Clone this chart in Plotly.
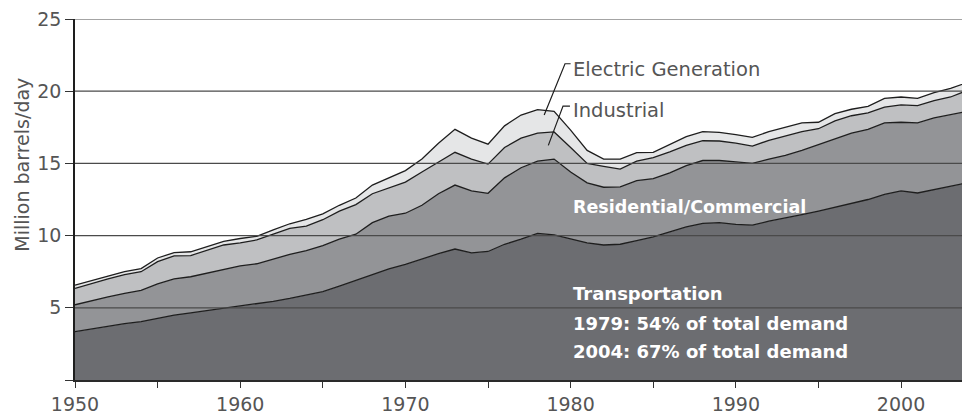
import plotly.graph_objects as go

years = list(range(1950, 2005))

transportation = [3.35, 3.55, 3.75, 3.90, 4.05, 4.30, 4.50, 4.65, 4.80, 4.95,
                  5.10, 5.25, 5.45, 5.65, 5.90, 6.12, 6.50, 6.90, 7.35, 7.70,
                  8.00, 8.40, 8.75, 9.07, 8.80, 8.90, 9.40, 9.75, 10.15, 10.05,
                  9.75, 9.50, 9.35, 9.40, 9.65, 9.92, 10.25, 10.60, 10.85, 10.90,
                  10.78, 10.72, 11.00, 11.20, 11.45, 11.70, 11.95, 12.20, 12.50, 12.85,
                  13.10, 12.95, 13.20, 13.40, 13.65]
residential_commercial = [1.86, 1.95, 2.00, 2.10, 2.15, 2.35, 2.50, 2.50, 2.60, 2.75,
                          2.80, 2.80, 2.95, 3.05, 3.06, 3.18, 3.25, 3.20, 3.55, 3.65,
                          3.55, 3.70, 4.15, 4.43, 4.30, 4.03, 4.60, 4.95, 5.00, 5.25,
                          4.65, 4.15, 4.00, 3.98, 4.15, 4.03, 4.10, 4.25, 4.35, 4.30,
                          4.32, 4.28, 4.30, 4.35, 4.45, 4.60, 4.80, 4.90, 4.85, 4.95,
                          4.75, 4.85, 4.95, 4.95, 4.95]
industrial = [1.14, 1.20, 1.25, 1.30, 1.30, 1.55, 1.60, 1.47, 1.60, 1.65,
              1.60, 1.65, 1.70, 1.80, 1.70, 1.80, 1.95, 2.05, 2.00, 1.95,
              2.15, 2.30, 2.20, 2.27, 2.20, 2.02, 2.10, 2.05, 1.95, 1.88,
              1.70, 1.35, 1.45, 1.22, 1.35, 1.45, 1.45, 1.40, 1.37, 1.35,
              1.30, 1.20, 1.30, 1.35, 1.30, 1.10, 1.20, 1.20, 1.15, 1.10,
              1.20, 1.20, 1.20, 1.25, 1.45]
electric_generation = [0.22, 0.20, 0.20, 0.20, 0.22, 0.25, 0.22, 0.26, 0.25, 0.25,
                       0.30, 0.25, 0.30, 0.32, 0.46, 0.40, 0.40, 0.45, 0.60, 0.70,
                       0.80, 0.90, 1.30, 1.59, 1.45, 1.38, 1.50, 1.60, 1.62, 1.42,
                       1.20, 0.90, 0.50, 0.70, 0.60, 0.37, 0.50, 0.60, 0.63, 0.60,
                       0.60, 0.60, 0.60, 0.60, 0.60, 0.45, 0.50, 0.45, 0.45, 0.60,
                       0.55, 0.50, 0.55, 0.60, 0.55]

series_names = ["Transportation", "Residential/Commercial", "Industrial", "Electric Generation"]
series_values = [transportation, residential_commercial, industrial, electric_generation]
fill_colors = ["#6c6d71", "#939497", "#bfc0c2", "#e5e6e7"]

x_tick_vals = list(range(1950, 2001, 5))
x_tick_text = ["1950", "", "1960", "", "1970", "", "1980", "", "1990", "", "2000"]
y_tick_vals = [0, 5, 10, 15, 20, 25]
y_tick_text = ["", "5", "10", "15", "20", "25"]

FONT = "DejaVu Sans, Verdana, sans-serif"
GRAY = "#555555"

fig = go.Figure()
for name, vals, col in zip(series_names, series_values, fill_colors):
    fig.add_trace(go.Scatter(
        x=years, y=vals, name=name, stackgroup="one", mode="lines",
        line=dict(color="#1e1e1e", width=1.3), fillcolor=col,
        hoverinfo="x+y+name",
    ))

# gridlines drawn above the areas
for v in y_tick_vals[1:]:
    fig.add_shape(type="line", xref="paper", yref="y", x0=0, x1=1, y0=v, y1=v,
                  line=dict(color="#4a4a4a", width=1.2), layer="above")

# leader lines for labels
fig.add_shape(type="path", xref="x", yref="y",
              path="M 1978.4,18.35 L 1979.66,21.9 L 1980.0,21.9",
              line=dict(color="#1e1e1e", width=1.2), layer="above")
fig.add_shape(type="path", xref="x", yref="y",
              path="M 1978.65,16.25 L 1979.54,18.97 L 1979.96,18.97",
              line=dict(color="#1e1e1e", width=1.2), layer="above")

annos = [
    dict(text="Electric Generation", x=1980.02, y=21.5, color=GRAY, size=19.5, bold=False),
    dict(text="Industrial", x=1980.02, y=18.68, color=GRAY, size=19.5, bold=False),
    dict(text="Residential/Commercial", x=1980.0, y=11.97, color="white", size=17.5, bold=True),
    dict(text="Transportation", x=1980.0, y=5.97, color="white", size=18, bold=True),
    dict(text="1979: 54% of total demand", x=1980.0, y=3.93, color="white", size=18, bold=True),
    dict(text="2004: 67% of total demand", x=1980.0, y=1.99, color="white", size=18, bold=True),
]
for a in annos:
    fig.add_annotation(
        text=a["text"], x=a["x"], y=a["y"], xref="x", yref="y",
        xanchor="left", yanchor="middle", showarrow=False,
        font=dict(family=FONT, size=a["size"], color=a["color"],
                  weight="bold" if a["bold"] else "normal"),
    )

fig.add_annotation(
    text="Million barrels/day", x=(22 - 75) / (962 - 75), y=(386.5 - 167) / 368,
    xref="paper", yref="paper", xanchor="center", yanchor="middle",
    showarrow=False, textangle=-90, font=dict(family=FONT, size=19, color=GRAY),
)

fig.update_layout(
    width=962, height=415,
    margin=dict(l=75, r=0, t=19, b=28),
    plot_bgcolor="white", paper_bgcolor="white",
    showlegend=False,
    font=dict(family=FONT, color=GRAY),
    xaxis=dict(
        range=[1950, 2003.69], tickvals=x_tick_vals, ticktext=x_tick_text,
        ticks="outside", ticklen=6, tickcolor="#333333", tickwidth=1,
        showgrid=False, zeroline=False, showline=True, linecolor="#2a2a2a", linewidth=2,
        tickfont=dict(family=FONT, size=19, color=GRAY),
    ),
    yaxis=dict(
        range=[0, 25], tickvals=y_tick_vals, ticktext=y_tick_text,
        ticks="outside", ticklen=8, tickcolor="#333333", tickwidth=1,
        showgrid=False, zeroline=False, showline=True, linecolor="#1e1e1e", linewidth=1.5,
        tickfont=dict(family=FONT, size=19, color=GRAY),
    ),
)

fig.write_html(
    "out.html",
    config={"displayModeBar": False},
    post_script="document.body.style.margin='0';document.body.style.padding='0';"
                "document.body.style.overflow='hidden';",
)
